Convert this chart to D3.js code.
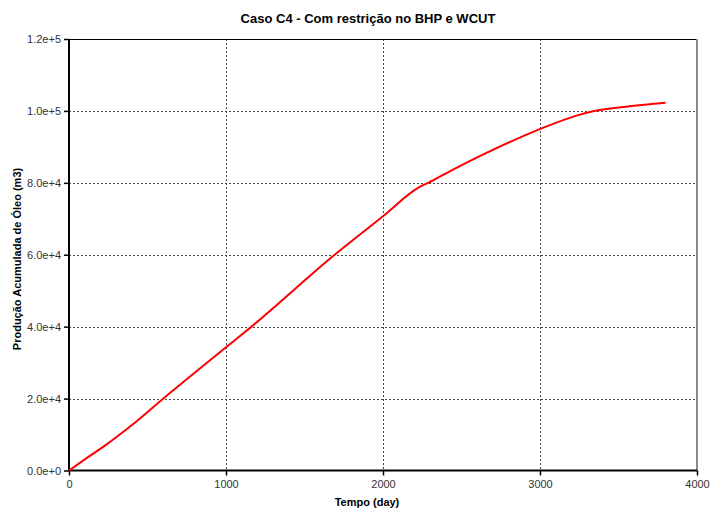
<!DOCTYPE html>
<html>
<head>
<meta charset="utf-8">
<script src="https://cdn.jsdelivr.net/npm/d3@7"></script>
<style>
  body { margin: 0; background: #fff; }
  text { font-family: "Liberation Sans", Arial, sans-serif; }
</style>
</head>
<body>
<svg id="chart" width="710" height="514"></svg>
<script>
// values
var days   = [0, 94, 222, 391, 603, 998, 1151, 1692, 2000, 2223, 2287, 2425, 2616, 3003, 3232, 3338, 3571, 3800];
var oilCum = [0, 2900, 6700, 12300, 20100, 34200, 39600, 60000, 70700, 78600, 80000, 83200, 87400, 95000, 98700, 99900, 101300, 102300];
var xTicks = [0, 1000, 2000, 3000, 4000];
var yTicks = [0, 20000, 40000, 60000, 80000, 100000, 120000];

var svg = d3.select("#chart"),
    pL = 69, pR = 697, pT = 39, pB = 470.5;  // plot box

var x = d3.scaleLinear().domain([0, 4000]).range([pL, pR]),
    y = d3.scaleLinear().domain([0, 120000]).range([pB, pT]);

// grid lines
svg.append("g").selectAll("line").data(xTicks.slice(1, -1)).enter().append("line")
  .attr("x1", function(d){ return Math.round(x(d)) + 0.5; })
  .attr("x2", function(d){ return Math.round(x(d)) + 0.5; })
  .attr("y1", pT).attr("y2", pB)
  .attr("stroke", "#444").attr("stroke-dasharray", "2,2");
svg.append("g").selectAll("line").data(yTicks.slice(1, -1)).enter().append("line")
  .attr("y1", function(d){ return Math.round(y(d)) + 0.5; })
  .attr("y2", function(d){ return Math.round(y(d)) + 0.5; })
  .attr("x1", pL).attr("x2", pR)
  .attr("stroke", "#444").attr("stroke-dasharray", "2,2");

// frame top / right
svg.append("line").attr("x1", pL).attr("x2", pR).attr("y1", pT + 0.5).attr("y2", pT + 0.5)
  .attr("stroke", "#000").attr("stroke-width", 1);
svg.append("line").attr("x1", pR).attr("x2", pR).attr("y1", pT).attr("y2", pB)
  .attr("stroke", "#888").attr("stroke-width", 2);

// axes
var fmt = function(d){ return d === 0 ? "0.0e+0" : d3.format(".1e")(d); };
var xAxis = svg.append("g").attr("transform", "translate(0," + pB + ")")
  .call(d3.axisBottom(x).tickValues(xTicks).tickSize(5).tickPadding(5).tickFormat(d3.format("d")));
var yAxis = svg.append("g").attr("transform", "translate(" + pL + ",0)")
  .call(d3.axisLeft(y).tickValues(yTicks).tickSize(5).tickPadding(3).tickFormat(fmt));

[xAxis, yAxis].forEach(function(a){
  a.select(".domain").attr("stroke", "#000").attr("stroke-width", 2);
  a.selectAll(".tick line").attr("stroke", "#000").attr("stroke-width", 1.5);
  a.selectAll(".tick text").attr("fill", "#333").style("font-size", "11px")
    .style("font-family", "'Liberation Sans', Arial, sans-serif");
});
xAxis.select(".domain").attr("d", "M" + pL + ",0H" + pR);
yAxis.select(".domain").attr("d", "M0," + pB + "V" + pT);

// curve
var pts = days.map(function(d, i){ return [d, oilCum[i]]; });
svg.append("path").datum(pts)
  .attr("fill", "none").attr("stroke", "#f00").attr("stroke-width", 2)
  .attr("d", d3.line().curve(d3.curveMonotoneX)
    .x(function(d){ return x(d[0]); }).y(function(d){ return y(d[1]); }));

// titles
svg.append("text").attr("x", 368).attr("y", 23).attr("text-anchor", "middle")
  .style("font-size", "13px").style("font-weight", "bold")
  .text("Caso C4 - Com restrição no BHP e WCUT");
svg.append("text").attr("x", 367).attr("y", 506).attr("text-anchor", "middle")
  .style("font-size", "11px").style("font-weight", "bold").text("Tempo (day)");
svg.append("text").attr("transform", "translate(21,259) rotate(-90)").attr("text-anchor", "middle")
  .style("font-size", "11px").style("font-weight", "bold").text("Produção Acumulada de Óleo (m3)");
</script>
</body>
</html>
